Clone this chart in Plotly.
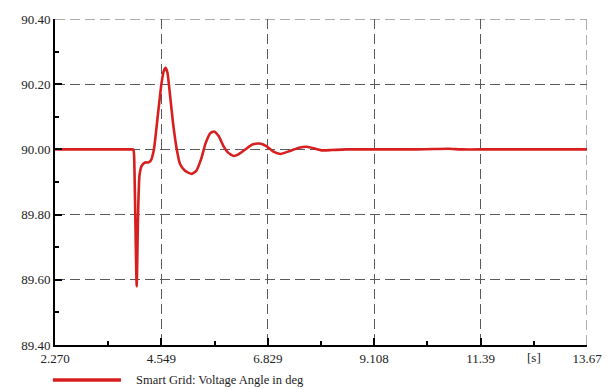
import plotly.graph_objects as go

# Data
time_s = [2.27, 2.80, 3.30, 3.70, 3.90, 3.95, 3.965, 3.99, 4.02, 4.05, 4.08, 4.13, 4.20, 4.27, 4.32, 4.39, 4.47,
          4.55, 4.60, 4.64, 4.68, 4.71, 4.80, 4.88, 4.95, 5.05, 5.20, 5.30, 5.40,
          5.50, 5.60, 5.68, 5.78, 5.88, 5.98, 6.10, 6.20, 6.35, 6.50, 6.65, 6.80,
          6.95, 7.10, 7.30, 7.50, 7.67, 7.85, 8.00, 8.20, 8.50, 9.00, 9.50, 10.0, 10.4, 10.7,
          11.0, 11.5, 12.0, 12.5, 13.0, 13.67]
angle_deg = [90.00, 90.00, 90.00, 90.00, 90.00, 90.00, 89.98, 89.80, 89.58, 89.80, 89.92, 89.95, 89.96, 89.96, 89.965, 90.00, 90.10,
             90.20, 90.24, 90.25, 90.235, 90.20, 90.08, 90.00, 89.955, 89.935, 89.925, 89.935, 89.97,
             90.02, 90.05, 90.055, 90.04, 90.01, 89.99, 89.98, 89.985, 90.00, 90.015, 90.018, 90.01,
             89.993, 89.986, 89.995, 90.005, 90.008, 90.002, 89.997, 89.998, 90.00, 90.00, 90.00, 90.00, 90.001, 90.002,
             90.00, 90.00, 90.00, 90.00, 90.00, 90.00]

x_tick_vals = [2.270, 4.549, 6.829, 9.108, 11.39, 13.67]
x_tick_text = ["2.270", "4.549", "6.829", "9.108", "11.39", "13.67"]
y_tick_vals = [89.40, 89.60, 89.80, 90.00, 90.20, 90.40]
x_unit = "[s]"
series_name = "Smart Grid: Voltage Angle in deg"

FONT = "Liberation Serif, DejaVu Serif, serif"
RED = "#d71f1f"
GRIDC = "#5a5a5a"
DASH = "10px,5px"

fig = go.Figure()
fig.add_trace(go.Scatter(x=time_s, y=angle_deg, mode="lines", name=series_name,
                         line=dict(color=RED, width=2.6, shape="spline", smoothing=0.5),
                         showlegend=False))

grid = dict(showgrid=True, gridcolor=GRIDC, gridwidth=1, griddash=DASH)

fig.update_xaxes(range=[x_tick_vals[0], x_tick_vals[-1]], tickvals=x_tick_vals, ticktext=x_tick_text,
                 ticks="inside", ticklen=7, tickwidth=1.5, tickcolor="black",
                 showline=True, linecolor="black", linewidth=2, zeroline=False,
                 minor=dict(tickvals=[(a + b) / 2 for a, b in zip(x_tick_vals[:-1], x_tick_vals[1:])],
                            ticks="inside", ticklen=4, tickcolor="black", showgrid=False),
                 tickfont=dict(family=FONT, size=13, color="#222"), **grid)
fig.update_yaxes(range=[y_tick_vals[0], y_tick_vals[-1]], tickvals=y_tick_vals, tickformat=".2f",
                 ticks="inside", ticklen=7, tickwidth=1.5, tickcolor="black",
                 showline=True, linecolor="black", linewidth=2, zeroline=False,
                 minor=dict(dtick=0.1, ticks="inside", ticklen=4, tickcolor="black", showgrid=False),
                 tickfont=dict(family=FONT, size=13, color="#222"), **grid)

# gridlines at the range edges (plotly skips them)
fig.add_shape(type="line", xref="x", yref="y", x0=x_tick_vals[0], x1=x_tick_vals[-1],
              y0=y_tick_vals[-1], y1=y_tick_vals[-1], line=dict(color=GRIDC, width=1, dash=DASH), layer="below")
fig.add_shape(type="line", xref="x", yref="y", x0=x_tick_vals[-1], x1=x_tick_vals[-1],
              y0=y_tick_vals[0], y1=y_tick_vals[-1], line=dict(color=GRIDC, width=1, dash=DASH), layer="below")

fig.add_annotation(x=(x_tick_vals[-2] + x_tick_vals[-1]) / 2, y=0, yref="paper", yanchor="top",
                   yshift=-3, text=x_unit, showarrow=False,
                   font=dict(family=FONT, size=13, color="#222"))

# legend
fig.add_shape(type="line", xref="paper", yref="paper", x0=-0.004, x1=0.124, y0=-0.107, y1=-0.107,
              line=dict(color=RED, width=3.5))
fig.add_annotation(xref="paper", yref="paper", x=0.148, y=-0.107, xanchor="left", yanchor="middle",
                   text=series_name, showarrow=False, font=dict(family=FONT, size=12.5, color="#222"))

fig.update_layout(width=614, height=389, margin=dict(l=55, r=21, t=15, b=44),
                  paper_bgcolor="white", plot_bgcolor="white", showlegend=False)

fig.write_html("out.html")
